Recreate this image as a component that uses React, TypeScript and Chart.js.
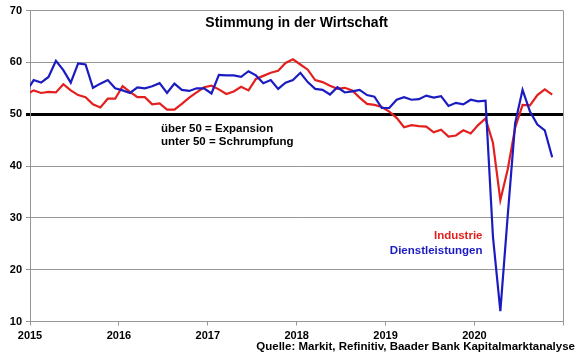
import React, { useEffect, useRef } from "react";
import { Chart, registerables } from "chart.js";

Chart.register(...registerables);

// Monthly values, Dec 2014 (line lead-in) through Nov 2020
const firstMonth = "2014-12";
const dienstleistungen = [
  54.4,
  56.6, 56.1, 57.2, 60.3, 58.5, 56.1, 59.8, 59.6, 55.1, 55.9, 56.6, 55.0,
  54.6, 54.1, 55.2, 55.0, 55.4, 56.0, 54.1, 55.9, 54.7, 54.5, 55.0, 55.0,
  54.0, 57.6, 57.5, 57.5, 57.2, 58.3, 57.5, 56.0, 56.6, 54.9, 56.1, 56.6,
  58.0, 56.2, 54.9, 54.7, 53.8, 55.2, 54.2, 54.4, 54.7, 53.7, 53.4, 51.2,
  51.2, 52.8, 53.3, 52.8, 52.9, 53.6, 53.2, 53.5, 51.6, 52.2, 51.9, 52.8,
  52.5, 52.6, 26.4, 12.0, 30.5, 48.3, 54.7, 50.5, 48.0, 46.9, 41.7,
];
const industrie = [
  53.8,
  54.6, 54.1, 54.3, 54.2, 55.8, 54.6, 53.7, 53.3, 51.9, 51.3, 53.0, 53.0,
  55.4, 54.3, 53.3, 53.3, 51.9, 52.1, 50.9, 50.9, 52.0, 53.2, 54.2, 55.2,
  55.5, 54.8, 53.9, 54.4, 55.3, 54.6, 56.8, 57.4, 58.0, 58.4, 59.9, 60.6,
  59.6, 58.6, 56.6, 56.2, 55.5, 54.9, 55.1, 54.6, 53.2, 52.0, 51.8, 51.4,
  50.5, 49.3, 47.5, 47.9, 47.7, 47.6, 46.5, 47.0, 45.7, 45.9, 46.9, 46.3,
  47.9, 49.2, 44.5, 33.4, 39.4, 47.4, 51.8, 51.7, 53.7, 54.8, 53.8,
];
const yearLabels = ["2015", "2016", "2017", "2018", "2019", "2020", ""];
const yTickLabels = ["10", "20", "30", "40", "50", "60", "70"];
const titleText = "Stimmung in der Wirtschaft";
const noteLines = ["über 50 = Expansion", "unter 50 = Schrumpfung"];
const seriesNames = ["Industrie", "Dienstleistungen"];
const sourceText = "Quelle: Markit, Refinitiv, Baader Bank Kapitalmarktanalyse";

const RED = "#e3201f";
const BLUE = "#1b1bc2";
const GRID = "#969696";
const FONT = 'Arial, "Liberation Sans", sans-serif';

const toPoints = (arr: number[]) => arr.map((v, i) => ({ x: i - 0.5, y: v }));

const textPlugin = {
  id: "texts",
  beforeDatasetsDraw(chart: any) {
    const { ctx, chartArea } = chart;
    ctx.save();
    ctx.strokeStyle = GRID;
    ctx.lineWidth = 1;
    ctx.beginPath();
    ctx.moveTo(Math.round(chartArea.right) + 0.5, chartArea.top);
    ctx.lineTo(Math.round(chartArea.right) + 0.5, chartArea.bottom);
    ctx.stroke();
    ctx.restore();
  },
  afterDraw(chart: any) {
    const { ctx, chartArea } = chart;
    const ys = chart.scales.y;
    const { left, right, top } = chartArea;
    ctx.save();
    ctx.textBaseline = "middle";
    // title
    ctx.fillStyle = "#000";
    ctx.font = `bold 14px ${FONT}`;
    ctx.textAlign = "center";
    ctx.fillText(titleText, (left + right) / 2, top + 12.5);
    // note
    ctx.font = `bold 11.5px ${FONT}`;
    ctx.textAlign = "left";
    const y50 = ys.getPixelForValue(50);
    ctx.fillText(noteLines[0], left + 131, y50 + 15);
    ctx.fillText(noteLines[1], left + 131, y50 + 28);
    // series labels
    ctx.textAlign = "right";
    ctx.fillStyle = RED;
    ctx.fillText(seriesNames[0], left + 452.5, 236);
    ctx.fillStyle = BLUE;
    ctx.fillText(seriesNames[1], left + 452.5, 251);
    // source
    ctx.fillStyle = "#000";
    ctx.fillText(sourceText, 575, 347);
    ctx.restore();
  },
};

export default function App() {
  const ref = useRef<HTMLCanvasElement | null>(null);
  useEffect(() => {
    if (!ref.current) return;
    const chart = new Chart(ref.current, {
      type: "line",
      data: {
        datasets: [
          {
            label: seriesNames[1],
            data: toPoints(dienstleistungen),
            borderColor: BLUE,
            backgroundColor: BLUE,
            borderWidth: 2.2,
            pointRadius: 0,
            tension: 0,
            clip: { left: 0, top: 5, right: 5, bottom: 5 } as any,
          },
          {
            label: seriesNames[0],
            data: toPoints(industrie),
            borderColor: RED,
            backgroundColor: RED,
            borderWidth: 2.2,
            pointRadius: 0,
            tension: 0,
            clip: { left: 0, top: 5, right: 5, bottom: 5 } as any,
          },
        ],
      },
      options: {
        animation: false,
        responsive: false,
        devicePixelRatio: 1,
        layout: { padding: { left: 0, right: 16.7, top: 9.5, bottom: 0 } },
        plugins: {
          legend: { display: false },
          tooltip: { enabled: false },
          title: { display: false },
        },
        scales: {
          x: {
            type: "linear",
            min: 0,
            max: 72,
            afterFit: (s: any) => {
              s.height = 37.5;
            },
            afterBuildTicks: (s: any) => {
              s.ticks = yearLabels.map((_, i) => ({ value: i * 12 }));
            },
            ticks: {
              autoSkip: false,
              maxRotation: 0,
              padding: 4,
              color: "#000",
              font: { family: FONT, size: 11, weight: "bold" },
              callback: (_v: any, idx: number) => yearLabels[idx],
            },
            grid: {
              drawOnChartArea: false,
              drawTicks: true,
              tickLength: 4,
              color: GRID,
            },
            border: { color: GRID, width: 1 },
          },
          y: {
            min: 10,
            max: 70,
            afterFit: (s: any) => {
              s.width = 30;
            },
            afterBuildTicks: (s: any) => {
              s.ticks = yTickLabels.map((t) => ({ value: Number(t) }));
            },
            ticks: {
              padding: 4,
              color: "#000",
              font: { family: FONT, size: 11, weight: "bold" },
              callback: (_v: any, idx: number) => yTickLabels[idx],
            },
            grid: {
              tickLength: 4,
              color: (c: any) => (c.tick && c.tick.value === 50 ? "#000" : GRID),
              lineWidth: (c: any) => (c.tick && c.tick.value === 50 ? 3 : 1),
            },
            border: { color: GRID, width: 1 },
          },
        },
      },
      plugins: [textPlugin],
    });
    return () => chart.destroy();
  }, []);
  return (
    <div style={{ position: "fixed", left: 0, top: 0, width: 580, height: 359, background: "#fff" }}>
      <canvas ref={ref} width={580} height={359} data-start={firstMonth} />
    </div>
  );
}
